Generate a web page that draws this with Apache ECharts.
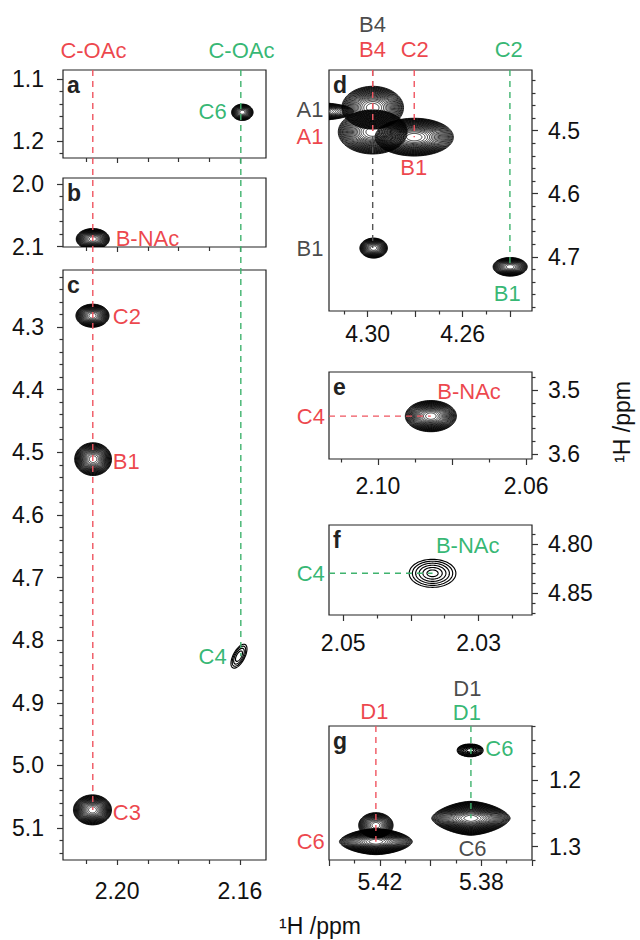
<!DOCTYPE html>
<html>
<head>
<meta charset="utf-8">
<script src="https://cdn.jsdelivr.net/npm/echarts@6/dist/echarts.min.js"></script>
<style>
  html, body { margin: 0; padding: 0; background: #fff; }
  #main { width: 640px; height: 940px; }
</style>
</head>
<body>
<div id="main"></div>
<script>
// NMR 2D contour panels a-g
var FONT = '"Liberation Sans", Arial, sans-serif';
var RED = '#e8141c', GREEN = '#00a54f', BLACK = '#1a1a1a';
var colourOf = { r: RED, g: GREEN, k: BLACK };
var guideColour = { r: '#ef5560', g: '#3fb36e', k: '#555555' };

// axis ranges (ppm) of every panel
var panelNames = ['a', 'b', 'c', 'd', 'e', 'f', 'g'];
var xRanges = [[2.1515, 2.2176], [2.1515, 2.2176], [2.1515, 2.2176], [4.2308, 4.3163], [2.0584, 2.1132], [2.0221, 2.0521], [5.3600, 5.4401]];
var yRanges = [[1.0855, 1.2274], [1.990, 2.1005], [4.209, 5.151], [4.4037, 4.786], [3.4714, 3.6078], [4.7807, 4.872], [1.119, 1.320]];

// tick labels
var xTickLabels = [[], [], ['2.20', '2.16'], ['4.30', '4.26'], ['2.10', '2.06'], ['2.05', '2.03'], ['5.42', '5.38']];
var yTickLabels = [['1.1', '1.2'], ['2.0', '2.1'], ['4.3', '4.4', '4.5', '4.6', '4.7', '4.8', '4.9', '5.0', '5.1'],
                   ['4.5', '4.6', '4.7'], ['3.5', '3.6'], ['4.80', '4.85'], ['1.2', '1.3']];
var xMajorStep = [0.04, 0.04, 0.04, 0.02, 0.02, 0.01, 0.02];
var xMinorStep = [0.01, 0.01, 0.01, 0.01, 0.01, 0.005, 0.01];
var yMajorStep = [0.1, 0.1, 0.1, 0.1, 0.1, 0.05, 0.1];
var yMinorStep = [0.02, 0.02, 0.02, 0.02, 0.02, 0.01, 0.02];

// cross peaks: [x ppm, y ppm, half width x, half width y, contour levels, tilt deg, shape exp, level spacing]
var peaksA = [[2.1592, 1.1537, 0.0035, 0.0132, 18, 0, 2, 0.5]];
var peaksB = [[2.2079, 2.0877, 0.0054, 0.0168, 22, 0, 2, 0.5]];
var peaksC = [
  [2.2080, 4.2820, 0.0054, 0.0185, 22, 0, 2, 0.5],
  [2.2078, 4.5110, 0.0060, 0.0262, 24, 0, 2, 0.5],
  [2.2080, 5.0710, 0.0062, 0.0240, 24, 0, 2, 0.5],
  [2.1603, 4.8256, 0.0043, 0.0092, 4, -62, 2, 0.6]
];
var peaksD = [
  [4.3220, 4.4695, 0.0160, 0.0140, 18, 0, 2, 0.5],
  [4.2804, 4.5102, 0.0165, 0.0300, 26, 0, 2, 0.5],
  [4.2979, 4.5020, 0.0145, 0.0350, 26, 0, 2, 0.5],
  [4.2979, 4.4635, 0.0130, 0.0340, 24, 0, 2, 0.5],
  [4.2975, 4.6862, 0.0058, 0.0159, 20, 0, 2, 0.5],
  [4.2400, 4.7159, 0.0072, 0.0148, 20, 0, 2, 0.5]
];
var peaksE = [[2.0857, 3.5406, 0.0069, 0.0245, 24, 0, 2, 0.5]];
var peaksF = [[2.0368, 4.8297, 0.00345, 0.0142, 6, 0, 2, 0.8]];
var peaksG = [
  [5.3844, 1.1555, 0.0051, 0.0095, 9, 0, 2, 0.6],
  [5.3841, 1.2574, 0.0155, 0.0255, 30, 0, 1.6, 0.5],
  [5.4216, 1.2680, 0.0068, 0.0190, 20, 0, 2, 0.5],
  [5.4216, 1.2925, 0.0144, 0.0195, 28, 0, 1.7, 0.5]
];
var peakSets = [peaksA, peaksB, peaksC, peaksD, peaksE, peaksF, peaksG];

// assignments: [x ppm, y ppm, text, colour]
var labelsA = [[2.2077, 1.0544, 'C-OAc', 'r'], [2.1595, 1.0544, 'C-OAc', 'g'], [2.1689, 1.1527, 'C6', 'g']];
var labelsB = [[2.1901, 2.0866, 'B-NAc', 'r']];
var labelsC = [[2.1968, 4.2835, 'C2', 'r'], [2.1970, 4.5150, 'B1', 'r'], [2.1968, 5.0753, 'C3', 'r'], [2.1689, 4.8256, 'C4', 'g']];
var labelsD = [
  [4.2980, 4.3322, 'B4', 'k'], [4.2980, 4.3719, 'B4', 'r'], [4.2802, 4.3719, 'C2', 'r'], [4.2406, 4.3719, 'C2', 'g'],
  [4.3243, 4.4671, 'A1', 'k'], [4.3243, 4.5095, 'A1', 'r'], [4.2806, 4.5587, 'B1', 'r'],
  [4.3243, 4.6867, 'B1', 'k'], [4.2412, 4.7589, 'B1', 'g']
];
var labelsE = [[2.0754, 3.5013, 'B-NAc', 'r'], [2.1181, 3.5414, 'C4', 'r']];
var labelsF = [[2.0316, 4.8013, 'B-NAc', 'g'], [2.0548, 4.8297, 'C4', 'g']];
var labelsG = [
  [5.4222, 1.0976, 'D1', 'r'], [5.3855, 1.0621, 'D1', 'k'], [5.3857, 1.0990, 'D1', 'g'],
  [5.3729, 1.1525, 'C6', 'g'], [5.3835, 1.3024, 'C6', 'k'], [5.4473, 1.2925, 'C6', 'r']
];
var labelSets = [labelsA, labelsB, labelsC, labelsD, labelsE, labelsF, labelsG];

// dashed guides: [panel, x, y, panel, x, y, colour]  ('top' = upper edge, 'left' = left edge)
var guides = [
  [0, 2.2079, 'top', 2, 2.2079, 5.0710, 'r'],
  [0, 2.1597, 'top', 2, 2.1597, 4.8256, 'g'],
  [3, 4.2979, 'top', 3, 4.2979, 4.6862, 'k'],
  [3, 4.2979, 'top', 3, 4.2979, 4.5020, 'r'],
  [3, 4.2804, 'top', 3, 4.2804, 4.5102, 'r'],
  [3, 4.2401, 'top', 3, 4.2401, 4.7159, 'g'],
  [4, 'left', 3.5406, 4, 2.0857, 3.5406, 'r'],
  [5, 'left', 4.8297, 5, 2.0368, 4.8297, 'g'],
  [6, 5.4216, 'top', 6, 5.4216, 1.2925, 'r'],
  [6, 5.3841, 'top', 6, 5.3841, 1.2574, 'g']
];

// layout of the seven boxes
var boxes = [
  { left: 63, top: 70, width: 203, height: 88 },
  { left: 63, top: 178, width: 203, height: 69 },
  { left: 63, top: 270, width: 203, height: 590 },
  { left: 329, top: 70, width: 203, height: 241 },
  { left: 329, top: 372, width: 203, height: 87 },
  { left: 329, top: 525, width: 203, height: 90 },
  { left: 329, top: 726, width: 203, height: 134 }
];
var xLabelMargin = [19, 19, 19, 11, 15, 16, 10];
var yLabelMargin = [19, 19, 19, 16, 16, 16, 17];
var TICK_FONT = 23;

var chart = echarts.init(document.getElementById('main'), null, { renderer: 'svg' });

//multiples of step inside [lo, hi]
function stepValues(lo, hi, step) {
  var out = [];
  for (var k = Math.ceil(lo / step - 1e-6); k <= Math.floor(hi / step + 1e-6); k++) {
    out.push(+(k * step).toFixed(4));
  }
  return out;
}
function without(list, drop) {
  return list.filter(function (v) {
    return !drop.some(function (d) { return Math.abs(d - v) < 1e-6; });
  });
}

//one contour stack per peak
function drawPeak(params, api) {
  var c = api.coord([api.value(0), api.value(1)]);
  var sz = api.size([api.value(2), api.value(3)]);
  var rx = Math.abs(sz[0]), ry = Math.abs(sz[1]);
  var n = api.value(4), rot = api.value(5) * Math.PI / 180;
  var ex = api.value(6), q = api.value(7);
  var cr = Math.cos(rot), sr = Math.sin(rot);
  var lw = n < 10 ? 1.15 : 0.8;
  var kids = [];
  for (var k = 0; k < n; k++) {
    var s = Math.pow(1 - k / n, q);
    var pts = [];
    for (var j = 0; j < 72; j++) {
      var t = j / 72 * 2 * Math.PI;
      var ct = Math.cos(t), st = Math.sin(t);
      var px = rx * s * (ct < 0 ? -1 : 1) * Math.pow(Math.abs(ct), 2 / ex);
      var py = ry * s * (st < 0 ? -1 : 1) * Math.pow(Math.abs(st), 2 / ex);
      pts.push([c[0] + px * cr - py * sr, c[1] + px * sr + py * cr]);
    }
    kids.push({ type: 'polygon', shape: { points: pts }, style: { fill: 'none', stroke: '#000', lineWidth: lw } });
  }
  return { type: 'group', children: kids };
}

var grids = [], xAxes = [], yAxes = [], series = [], graphics = [];

for (var i = 0; i < 7; i++) {
  var b = boxes[i];
  var rightCol = i >= 3;
  grids.push({ left: b.left, top: b.top, width: b.width, height: b.height,
    containLabel: false, outerBoundsMode: 'none',
    show: true, borderColor: '#222', borderWidth: 1.2, backgroundColor: 'transparent' });

  var xr = xRanges[i], yr = yRanges[i];
  var xLab = xTickLabels[i].map(Number), yLab = yTickLabels[i].map(Number);
  var xDec = xTickLabels[i].length ? xTickLabels[i][0].split('.')[1].length : 2;
  var yDec = yTickLabels[i][0].split('.')[1].length;
  var xMaj = stepValues(xr[0], xr[1], xMajorStep[i]);
  var xMin = without(stepValues(xr[0], xr[1], xMinorStep[i]), xMaj);
  var yMaj = stepValues(yr[0], yr[1], yMajorStep[i]);
  var yMin = without(stepValues(yr[0], yr[1], yMinorStep[i]), yMaj);

  (function (xDec, yDec) {
    // main axes carry labels and major ticks
    xAxes.push({
      gridIndex: i, type: 'value', min: xr[0], max: xr[1], inverse: true, position: 'bottom',
      splitLine: { show: false }, axisLine: { show: false },
      axisTick: { show: true, customValues: xMaj, length: rightCol ? 6 : 5, lineStyle: { color: '#333', width: 1.2 } },
      axisLabel: { show: xLab.length > 0, customValues: xLab, margin: xLabelMargin[i], color: '#111',
        fontSize: TICK_FONT, fontFamily: FONT, formatter: function (v) { return v.toFixed(xDec); } }
    });
    yAxes.push({
      gridIndex: i, type: 'value', min: yr[0], max: yr[1], inverse: true, position: rightCol ? 'right' : 'left',
      splitLine: { show: false }, axisLine: { show: false },
      axisTick: { show: true, customValues: yMaj, length: 6, lineStyle: { color: '#333', width: 1.2 } },
      axisLabel: { show: true, customValues: yLab, margin: yLabelMargin[i], color: '#111',
        fontSize: TICK_FONT, fontFamily: FONT, formatter: function (v) { return v.toFixed(yDec); } }
    });
  })(xDec, yDec);
  // second pair of axes only for the minor ticks
  xAxes.push({
    gridIndex: i, type: 'value', min: xr[0], max: xr[1], inverse: true, position: 'bottom',
    splitLine: { show: false }, axisLine: { show: false }, axisLabel: { show: false },
    axisTick: { show: true, customValues: xMin, length: rightCol ? 3.5 : 4, lineStyle: { color: '#333', width: 1.2 } }
  });
  yAxes.push({
    gridIndex: i, type: 'value', min: yr[0], max: yr[1], inverse: true, position: rightCol ? 'right' : 'left',
    splitLine: { show: false }, axisLine: { show: false }, axisLabel: { show: false },
    axisTick: { show: true, customValues: yMin, length: 3.5, lineStyle: { color: '#333', width: 1.2 } }
  });

  series.push({
    type: 'custom', xAxisIndex: 2 * i, yAxisIndex: 2 * i, clip: true, silent: true,
    renderItem: drawPeak, encode: { x: 0, y: 1 }, data: peakSets[i], z: 2
  });
  series.push({
    type: 'scatter', xAxisIndex: 2 * i, yAxisIndex: 2 * i, clip: false, silent: true,
    symbolSize: 1, itemStyle: { color: 'transparent' }, z: 5,
    data: labelSets[i].map(function (l) {
      return { value: [l[0], l[1]], label: { show: true, position: 'inside', formatter: l[2],
        color: colourOf[l[3]], fontSize: 22, lineHeight: 19, fontFamily: FONT } };
    })
  });

  graphics.push({
    type: 'text', id: 'letter' + i, x: b.left + 4, y: b.top + 3, z: 20, silent: true,
    style: { text: panelNames[i], font: 'bold 23px ' + FONT, fill: '#222', textVerticalAlign: 'top' }
  });
}

graphics.push({
  type: 'text', id: 'xname', x: 320, y: 926, z: 20, silent: true,
  style: { text: '\u00b9H /ppm', font: '23px ' + FONT, fill: '#111', textAlign: 'center', textVerticalAlign: 'middle' }
});
graphics.push({
  type: 'text', id: 'yname', x: 622, y: 422, rotation: Math.PI / 2, z: 20, silent: true,
  style: { text: '\u00b9H /ppm', font: '23px ' + FONT, fill: '#111', textAlign: 'center', textVerticalAlign: 'middle' }
});

chart.setOption({
  animation: false,
  backgroundColor: '#fff',
  grid: grids,
  xAxis: xAxes,
  yAxis: yAxes,
  series: series,
  graphic: { elements: graphics }
});

// dashed guides go through the axes of the panels they start and end in
function guidePoint(p, x, y) {
  if (y === 'top') y = yRanges[p][0];
  if (x === 'left') x = xRanges[p][1];
  return chart.convertToPixel({ xAxisIndex: 2 * p, yAxisIndex: 2 * p }, [x, y]);
}
var guideEls = guides.map(function (g, n) {
  var p1 = guidePoint(g[0], g[1], g[2]);
  var p2 = guidePoint(g[3], g[4], g[5]);
  return {
    type: 'line', id: 'guide' + n, z: 10, silent: true,
    shape: { x1: p1[0], y1: p1[1], x2: p2[0], y2: p2[1] },
    style: { stroke: guideColour[g[6]], lineWidth: 1.4, lineDash: [6, 5] }
  };
});
chart.setOption({ graphic: { elements: guideEls } });
</script>
</body>
</html>
